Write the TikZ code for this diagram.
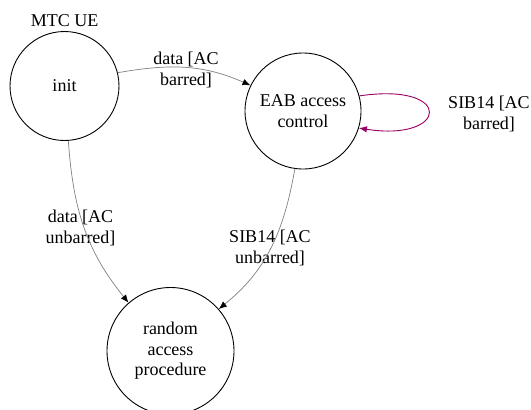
\documentclass[tikz,border=0pt]{standalone}
\usepackage{fontspec}
\setmainfont{Liberation Serif}
\usetikzlibrary{arrows.meta,positioning}

\begin{document}
\begin{tikzpicture}[x=1pt,y=1pt,
    state/.style={circle,draw,line width=0.9pt,inner sep=0pt,align=center},
    edge/.style={draw=gray,line width=0.7pt,-{Latex[black,length=8pt,width=6.5pt]}},
    selfedge/.style={draw=violet!80!red,line width=0.9pt,-{Latex[length=8pt,width=6.5pt]}},
    lbl/.style={align=center,inner sep=0pt}]
    \useasboundingbox (0,0) rectangle (531,-410);
    \fontsize{18}{20.5}\selectfont

    % States
    \node[state,minimum size=109pt] (init) at (64.5,-86) {init};
    \node[above=4pt of init,inner sep=0pt] (ue) {MTC UE};
    \node[state,minimum size=116pt] (eab) at (303,-111) {EAB access\\control};
    \node[state,minimum size=127pt] (rap) at (170.5,-351) {random\\access\\procedure};

    % Labels
    \node[lbl] (l1) at (186,-70) {data [AC\\barred]};
    \node[lbl] (l2) at (489,-114) {SIB14 [AC\\barred]};
    \node[lbl] (l3) at (80.5,-228) {data [AC\\unbarred]};
    \node[lbl] (l4) at (270,-248) {SIB14 [AC\\unbarred]};

    % Transitions
    \draw[edge] (init.14) to[out=10,in=156] (eab.154);
    \draw[selfedge] (eab.15) .. controls +(95,14) and +(90,-14) .. (eab.-17);
    \draw[edge] (init.-86) to[out=-86,in=129] (rap.131);
    \draw[edge] (eab.-98) to[out=-100,in=39] (rap.41);
\end{tikzpicture}
\end{document}
